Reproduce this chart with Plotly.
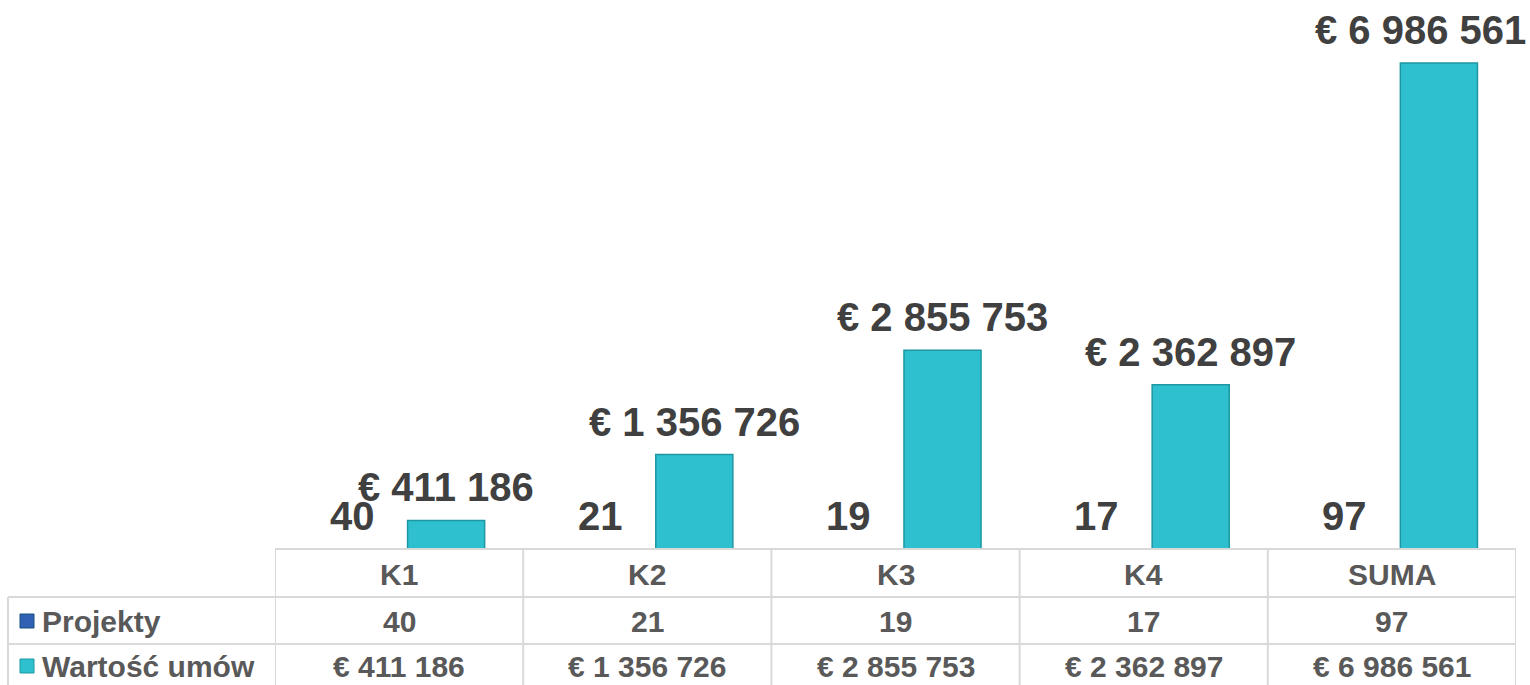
import plotly.graph_objects as go

categories = ["K1", "K2", "K3", "K4", "SUMA"]
projekty = [40, 21, 19, 17, 97]
wartosc = [411186, 1356726, 2855753, 2362897, 6986561]
projekty_labels = ["40", "21", "19", "17", "97"]
wartosc_labels = ["€ 411 186", "€ 1 356 726", "€ 2 855 753", "€ 2 362 897", "€ 6 986 561"]
series_names = ["Projekty", "Wartość umów"]

W, H = 1530, 685
ML, MR = 275, 14
plot_w = W - ML - MR
base_px = 549
row_lines_px = [549, 597, 644]
row_centers_px = [574, 621, 666]

FONT = "Liberation Sans, Arial, sans-serif"
LABEL_COLOR = "#404040"
TABLE_COLOR = "#595959"
GRID = "#d9d9d9"
TEAL = "#2ec0ce"
TEAL_EDGE = "#1f97a3"
BLUE = "#2f62b3"
BARGAP = 0.2425
GROUPGAP = 0.18
LABEL_SIZE = 40
TABLE_SIZE = 30

def py(px):
    return 1 - px / H

def pxx(px):
    return (px - ML) / plot_w

fig = go.Figure()
fig.add_trace(go.Bar(
    x=categories, y=projekty, name=series_names[0],
    marker=dict(color=BLUE), cliponaxis=False,
))
fig.add_trace(go.Bar(
    x=categories, y=wartosc, name=series_names[1],
    marker=dict(color=TEAL, line=dict(color=TEAL_EDGE, width=1.5)),
    cliponaxis=False,
))

col_px = plot_w / len(categories)
slot_px = col_px * (1 - BARGAP) / 2
offsets = [-slot_px / 2, slot_px / 2]

annotations = []
for vals, labels, off in [(projekty, projekty_labels, offsets[0]),
                          (wartosc, wartosc_labels, offsets[1])]:
    for i, (c, v, t) in enumerate(zip(categories, vals, labels)):
        a = dict(x=c, xref="x", y=v, yref="y", xshift=off,
                 yanchor="bottom", yshift=9, showarrow=False,
                 text="<b>%s</b>" % t,
                 font=dict(family=FONT, size=LABEL_SIZE, color=LABEL_COLOR))
        if i == len(categories) - 1 and off > 0:
            # keep the last label inside the canvas, as in the reference
            a["xshift"] = off - 18
        annotations.append(a)

shapes = []
shapes.append(dict(type="line", xref="paper", yref="paper", x0=0, x1=1,
                   y0=py(row_lines_px[0]), y1=py(row_lines_px[0]),
                   line=dict(color=GRID, width=2)))
for r in row_lines_px[1:]:
    shapes.append(dict(type="line", xref="paper", yref="paper", x0=pxx(8), x1=1,
                       y0=py(r), y1=py(r), line=dict(color=GRID, width=2)))
for i in range(len(categories) + 1):
    shapes.append(dict(type="line", xref="x", yref="paper", x0=i - 0.5, x1=i - 0.5,
                       y0=py(row_lines_px[0]), y1=py(H), line=dict(color=GRID, width=2)))
shapes.append(dict(type="line", xref="paper", yref="paper", x0=pxx(8), x1=pxx(8),
                   y0=py(row_lines_px[1]), y1=py(H), line=dict(color=GRID, width=2)))
for (c, e, yc) in [(BLUE, "#1a4f80", row_centers_px[1]), (TEAL, TEAL_EDGE, row_centers_px[2])]:
    shapes.append(dict(type="rect", xref="paper", yref="paper",
                       x0=pxx(20), x1=pxx(34), y0=py(yc - 7), y1=py(yc + 7),
                       fillcolor=c, line=dict(color=e, width=1)))

for i, c in enumerate(categories):
    for rc, t in [(row_centers_px[0], c), (row_centers_px[1], projekty_labels[i]),
                  (row_centers_px[2], wartosc_labels[i])]:
        annotations.append(dict(x=c, xref="x", y=py(rc), yref="paper", yanchor="middle",
                                text="<b>%s</b>" % t, showarrow=False,
                                font=dict(family=FONT, size=TABLE_SIZE, color=TABLE_COLOR)))
for name, yc in zip(series_names, row_centers_px[1:]):
    annotations.append(dict(x=pxx(40), xref="paper", y=py(yc), yref="paper",
                            xanchor="left", yanchor="middle", text="<b>%s</b>" % name,
                            showarrow=False,
                            font=dict(family=FONT, size=TABLE_SIZE, color=TABLE_COLOR)))

fig.update_layout(
    width=W, height=H,
    margin=dict(l=ML, r=MR, t=0, b=0),
    paper_bgcolor="white", plot_bgcolor="white",
    barmode="group", bargap=BARGAP, bargroupgap=GROUPGAP,
    showlegend=False,
    xaxis=dict(range=[-0.5, 4.5], showticklabels=False, showgrid=False,
               zeroline=False, showline=False, ticks=""),
    yaxis=dict(range=[0, 7.892e6], domain=[(H - base_px) / H, 1], visible=False),
    shapes=shapes, annotations=annotations,
)

fig.write_html("out.html")
